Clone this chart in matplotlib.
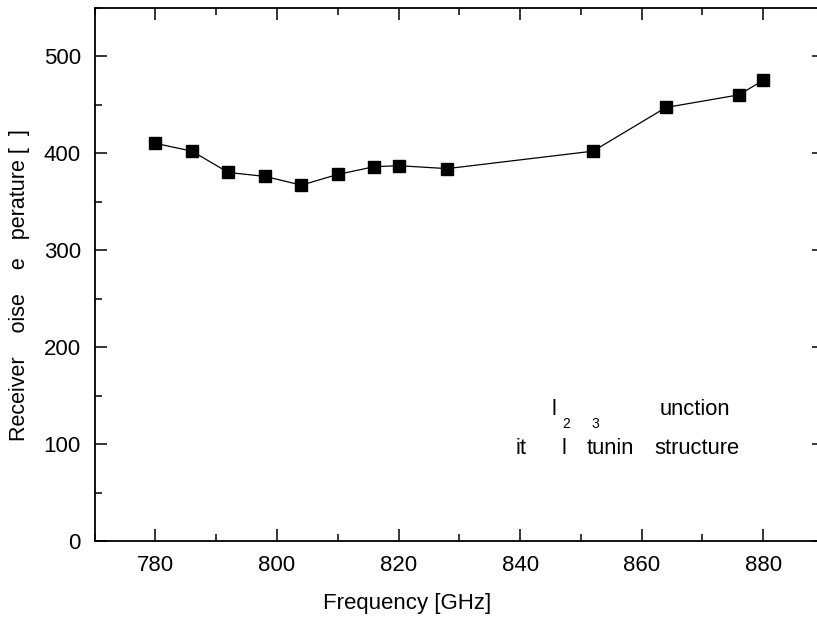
import matplotlib.pyplot as plt
from matplotlib.ticker import MultipleLocator

plt.rcParams['font.family'] = ['Liberation Sans', 'DejaVu Sans']

freq = [780, 786, 792, 798, 804, 810, 816, 820, 828, 852, 864, 876, 880]
noise_temp = [410, 402, 380, 376, 367, 378, 386, 387, 384, 402, 447, 460, 475]

x_ticks = [780, 800, 820, 840, 860, 880]
y_ticks = [0, 100, 200, 300, 400, 500]

W, H = 817, 617
fig = plt.figure(figsize=(W / 100, H / 100), dpi=100)
ax = fig.add_axes([94.7 / W, 1 - 541.3 / H, (824 - 94.7) / W, (541.3 - 7.5) / H])

ax.plot(freq, noise_temp, color='black', linewidth=0.9,
        marker='s', markersize=8.6, markerfacecolor='black', markeredgecolor='black')

ax.set_xlim(770, 890)
ax.set_ylim(0, 550)
ax.set_xticks(x_ticks)
ax.set_yticks(y_ticks)
ax.xaxis.set_minor_locator(MultipleLocator(10))
ax.yaxis.set_minor_locator(MultipleLocator(50))
ax.tick_params(which='both', direction='in', top=True, right=True, width=1.1, labelsize=16)
ax.tick_params(which='major', length=8.6)
ax.tick_params(axis='x', which='major', pad=10)
ax.tick_params(axis='y', which='major', pad=10)
ax.tick_params(which='minor', length=4.8)
for s in ax.spines.values():
    s.set_linewidth(1.3)

fig.text(407 / W, 1 - 603 / H, 'Frequency [GHz]', ha='center', va='center', fontsize=16)
fig.text(20 / W, 1 - 285 / H, 'Receiver    oise    e   perature [  ]',
         ha='center', va='center', rotation=90, fontsize=15.5)

# annotation, drawn piece by piece where the glyphs show
fs = 15.8
ax.text(845.1, 130.3, 'l', fontsize=fs, va='baseline')
ax.text(847.0, 116.9, '2', fontsize=10, va='baseline')
ax.text(851.7, 116.9, '3', fontsize=10, va='baseline')
ax.text(862.9, 130.3, 'unction', fontsize=fs, va='baseline')
ax.text(839.2, 90.1, 'it', fontsize=fs, va='baseline')
ax.text(846.8, 90.1, 'l', fontsize=fs, va='baseline')
ax.text(851.0, 90.1, 'tunin', fontsize=fs, va='baseline')
ax.text(862.1, 90.1, 'structure', fontsize=fs, va='baseline')

fig.savefig('out.png', dpi=100)
